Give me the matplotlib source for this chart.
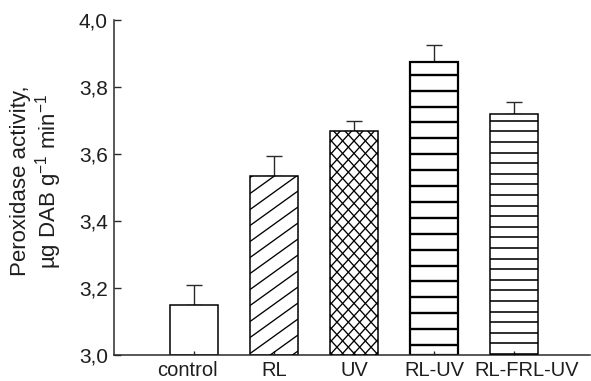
import numpy as np
import matplotlib
matplotlib.use("Agg")
import matplotlib.pyplot as plt
from matplotlib.collections import LineCollection
from matplotlib.transforms import IdentityTransform, ScaledTranslation

# Peroxidase activity by light treatment
categories = ["control", "RL", "UV", "RL-UV", "RL-FRL-UV"]
activity = [3.148, 3.535, 3.670, 3.876, 3.720]
activity_err = [0.062, 0.060, 0.030, 0.050, 0.035]
y_ticks = [3.0, 3.2, 3.4, 3.6, 3.8, 4.0]
y_tick_labels = ["3,0", "3,2", "3,4", "3,6", "3,8", "4,0"]

plt.rcParams["font.family"] = ["Liberation Sans", "DejaVu Sans"]
plt.rcParams["mathtext.fontset"] = "custom"
plt.rcParams["mathtext.rm"] = "Liberation Sans"
plt.rcParams["mathtext.it"] = "Liberation Sans:italic"

TEXT = "#1e1e1e"
LINE = "#2a2a2a"
base = y_ticks[0]

fig = plt.figure(figsize=(5.91, 3.81), dpi=100)
ax = fig.add_axes([114 / 591, 26 / 381, 476 / 591, 335 / 381])
ax.set_axisbelow(False)

x = np.arange(len(categories))
heights = np.array(activity) - base
bars = ax.bar(x, heights, bottom=base, width=0.6, facecolor="white",
              edgecolor="black", linewidth=1.1, zorder=2)
bars[3].set_linewidth(1.6)

ax.errorbar(x, activity, yerr=[np.zeros(len(x)), activity_err], fmt="none",
            ecolor=LINE, elinewidth=1.0, capsize=6, capthick=1.0, zorder=1)

ax.set_xlim(-1.0, 4.95)
ax.set_ylim(3.0, 4.0)


def hatch(rect, slopes, spacing, lw, offset=0.0):
    """Fill a bar with straight lines (slopes in pixel space), clipped to the bar."""
    (X0, Y0), (X1, Y1) = ax.transData.transform(
        [[rect.get_x(), rect.get_y()],
         [rect.get_x() + rect.get_width(), rect.get_y() + rect.get_height()]])
    w, h = X1 - X0, Y1 - Y0
    segs = []
    for s in slopes:
        lo = min(0, -s * w) - spacing
        hi = max(h, h - s * w) + spacing
        for c in np.arange(lo + offset, hi, spacing):
            segs.append([[X0, Y0 + c], [X1, Y0 + c + s * w]])
    lc = LineCollection(segs, colors="black", linewidths=lw,
                        transform=IdentityTransform(), zorder=3)
    ax.add_collection(lc, autolim=False)
    lc.set_clip_path(rect)


hatch(bars[1], [0.72], 16.0, 0.95, offset=4)
hatch(bars[2], [1.1, -1.1], 12.5, 0.95, offset=3)
hatch(bars[3], [0.0], 15.9, 1.7, offset=10)
hatch(bars[4], [0.0], 10.6, 1.15, offset=11.7)

ax.set_yticks(y_ticks)
ax.set_yticklabels(y_tick_labels)
ax.set_xticks(x)
ax.set_xticklabels(categories)

for side in ("top", "right"):
    ax.spines[side].set_visible(False)
for side in ("left", "bottom"):
    ax.spines[side].set_color(LINE)
    ax.spines[side].set_linewidth(1.1)

ax.tick_params(axis="y", direction="in", length=5, width=1.0, color=LINE,
               pad=4.5, labelsize=15, labelcolor=TEXT)
ax.tick_params(axis="x", direction="in", length=3, width=1.0, color=LINE,
               pad=4, labelsize=14.5, labelcolor=TEXT)

# nudge the outer category names apart so the long ones don't collide
xlabels = ax.get_xticklabels()
for lbl, dx in ((xlabels[0], -7), (xlabels[4], 13)):
    lbl.set_transform(lbl.get_transform() + ScaledTranslation(dx / 100, 0, fig.dpi_scale_trans))

fig.text(37 / 591, 1 - 181 / 381,
         "Peroxidase activity,\nµg DAB g$^{-1}$ min$^{-1}$",
         rotation=90, ha="center", va="center", multialignment="center",
         fontsize=16, color=TEXT, linespacing=1.1)

fig.savefig("out.png", dpi=100)
